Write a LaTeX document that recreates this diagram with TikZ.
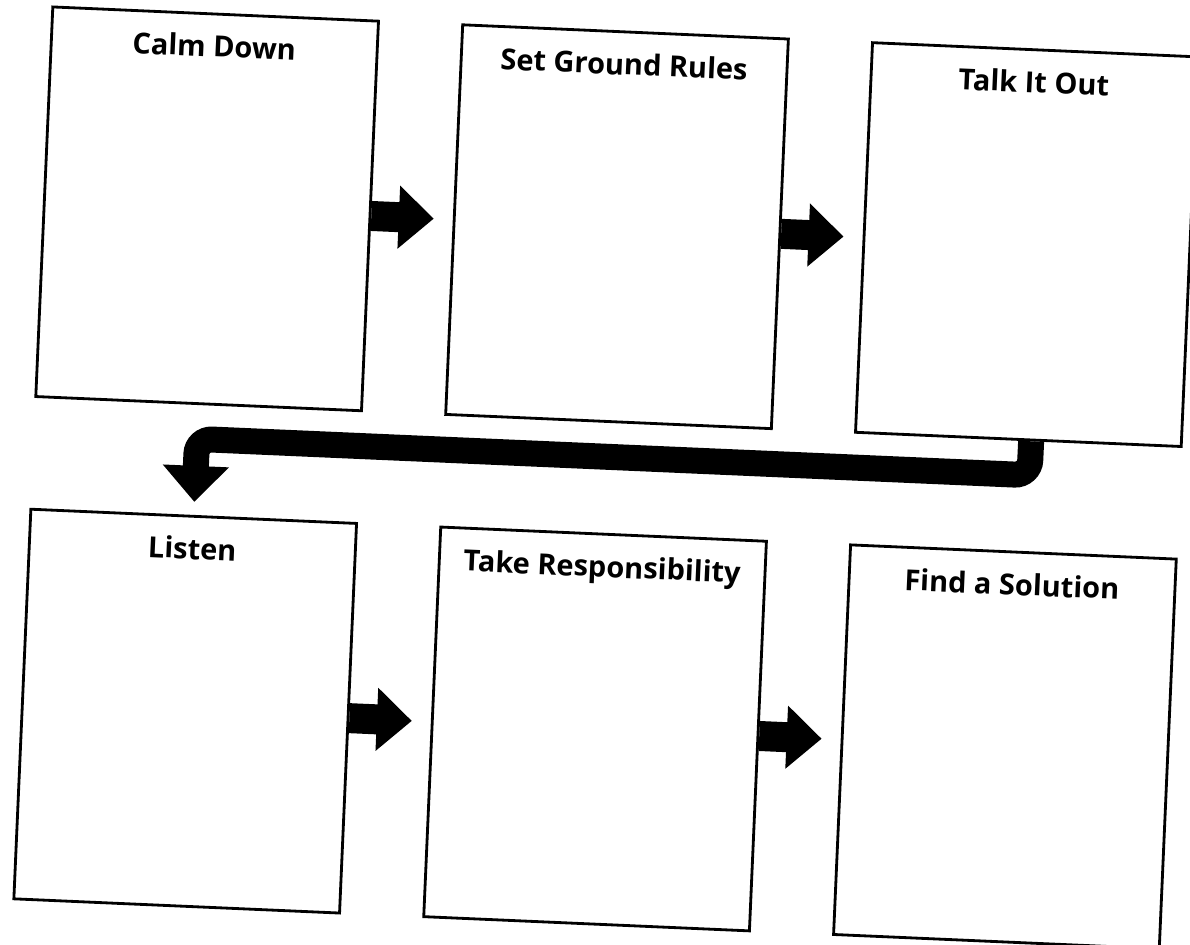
\documentclass[tikz,border=0pt]{standalone}
\usepackage{fontspec}
\setsansfont{Open Sans}
\usepackage{tikz}
\usetikzlibrary{arrows.meta, positioning}

\begin{document}
\begin{tikzpicture}[
  card/.style={draw, line width=1.6pt, minimum width=6.52cm, minimum height=7.8cm},
  ttl/.style={font=\sffamily\bfseries\fontsize{16.5}{19}\selectfont, inner sep=0pt},
  fat/.style={line width=0.6cm, -{Triangle[width=1.22cm, length=0.7cm]}, shorten >=0.38cm},
  turn/.style={line width=0.52cm, rounded corners=0.3cm, -{Triangle[width=1.28cm, length=0.72cm]}, shorten >=0.26cm}
]
\path[use as bounding box, fill=white] (0,0) rectangle (23.8,-18.9);
\begin{scope}[rotate around={-2.5:(11.9,-9.45)}, transform shape]
\node[card] (calm) at (3.92,-4.52) {};
\node[card, right=1.63cm of calm] (rules) {};
\node[card, right=1.63cm of rules] (talk) {};
\node[card, below=2.2cm of calm] (listen) {};
\node[card, right=1.63cm of listen] (resp) {};
\node[card, right=1.63cm of resp] (solve) {};

\node[ttl, below=0.44cm of calm.north] {Calm Down};
\node[ttl, below=0.44cm of rules.north] {Set Ground Rules};
\node[ttl, below=0.44cm of talk.north] {Talk It Out};
\node[ttl, below=0.44cm of listen.north] {Listen};
\node[ttl, below=0.44cm of resp.north] {Take Responsibility};
\node[ttl, below=0.44cm of solve.north] {Find a Solution};

\draw[fat] (calm) -- (rules);
\draw[fat] (rules) -- (talk);
\draw[fat] (listen) -- (resp);
\draw[fat] (resp) -- (solve);

\coordinate[right=0.26cm of talk.south] (c0);
\coordinate[below=0.68cm of c0] (c1);
\coordinate[above=1.52cm of listen.north] (c2);
\draw[turn] (c0) -- (c1) -- (c2) -- (listen);
\end{scope}
\end{tikzpicture}
\end{document}
